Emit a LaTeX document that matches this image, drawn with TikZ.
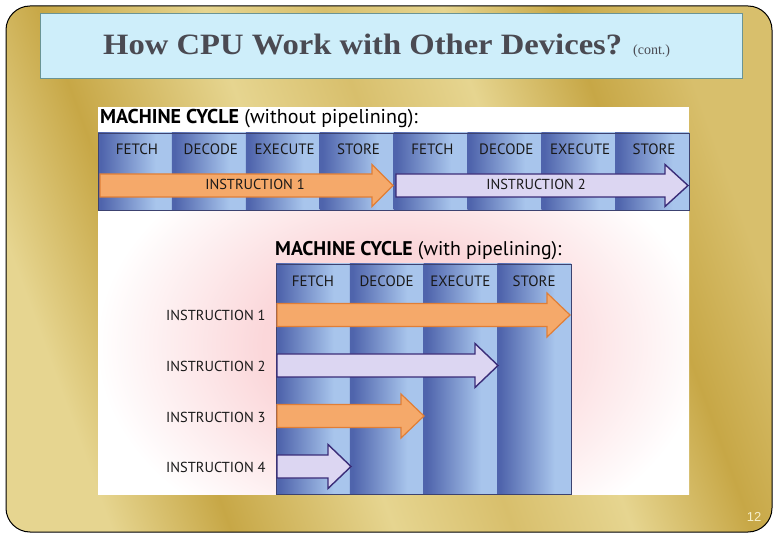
\documentclass[tikz,border=0pt]{standalone}
\usepackage{fontspec}
\usepackage{graphicx}
\setmainfont{Liberation Serif}
\newfontfamily\chartfont{PT Sans}
\newfontfamily\numfont{Liberation Sans}
\definecolor{g1}{HTML}{E6D590}
\definecolor{g2}{HTML}{C7A746}
\definecolor{g3}{HTML}{D8BF6C}
\definecolor{cdk}{HTML}{4F64AC}
\definecolor{clt}{HTML}{A8C5EC}
\definecolor{orf}{HTML}{F5A96A}
\definecolor{ord}{HTML}{E07E36}
\definecolor{lvf}{HTML}{DCD6F2}
\definecolor{lvd}{HTML}{3A2C78}
\definecolor{ttl}{HTML}{4A4A52}
\definecolor{tbox}{HTML}{CEEEFA}
\definecolor{tbord}{HTML}{6A9494}
\definecolor{pinkc}{HTML}{FBD7DA}
\definecolor{bandln}{HTML}{3C4270}
\definecolor{numc}{HTML}{F6EFCB}
\pgfdeclarehorizontalshading{goldshade}{100bp}{color(0bp)=(g1); color(25bp)=(g1); color(33bp)=(g2); color(44bp)=(g1); color(52bp)=(g3); color(60bp)=(g1); color(68bp)=(g2); color(75bp)=(g3); color(100bp)=(g3)}
\pgfdeclarehorizontalshading{colshade}{100bp}{color(0bp)=(cdk); color(27bp)=(cdk); color(64bp)=(clt); color(75bp)=(clt); color(100bp)=(clt)}
\pgfdeclareradialshading{glow}{\pgfpoint{0bp}{0bp}}{color(0bp)=(pinkc); color(9bp)=(pinkc); color(20bp)=(white); color(50bp)=(white)}
\newcommand{\cycarrow}[6]{%
  \filldraw[#1] ({#2},{#5-11.5}) -- ({#3},{#5-11.5}) -- ({#3},{#5-#6}) -- ({#4},{#5}) -- ({#3},{#5+#6}) -- ({#3},{#5+11.5}) -- ({#2},{#5+11.5}) -- cycle;}
\begin{document}
\begin{tikzpicture}[x=1pt,y=-1pt,
  hdr/.style={font=\chartfont\fontsize{15}{17}\selectfont, anchor=base, inner sep=0pt, text=black!90},
  instr/.style={font=\chartfont\fontsize{14.5}{17}\selectfont, anchor=base, inner sep=0pt, text=black!90},
  orarrow/.style={fill=orf, draw=ord, line width=1.2pt, line join=miter},
  lvarrow/.style={fill=lvf, draw=lvd, line width=1.4pt, line join=miter},
  bandline/.style={draw=bandln, line width=0.8pt},
  colbox/.style={shading=colshade}]
\useasboundingbox (0,0) rectangle (780,540);
\fill[white] (0,0) rectangle (780,540);
% gold frame
\shadedraw[shading=goldshade, shading angle=20, draw=black, line width=1pt, rounded corners=24pt] (6,6) rectangle (772,532);
% title box
\node[draw=tbord, fill=tbox, line width=0.8pt, minimum width=702pt, minimum height=65pt, inner sep=0pt, anchor=north west] (titlebox) at (40,13) {};
\node[anchor=base west, inner sep=0pt, text=ttl] (title) at (103,55) {\resizebox{519pt}{20.5pt}{\bfseries How CPU Work with Other Devices?}};
\node[anchor=base west, inner sep=0pt, text=ttl, font=\fontsize{14}{16}\selectfont] (cont) at (633,55) {(cont.)};
% picture area
\fill[white] (98,107) rectangle (689,494);
\begin{scope}
  \clip (98,210) rectangle (689,494);
  \shade[shading=glow] (400,345) ellipse (380pt and 270pt);
\end{scope}
% ---- without pipelining
\node[anchor=base west, inner sep=0pt, font=\chartfont\fontsize{20}{23}\selectfont] (t1) at (100,124) {\textbf{MACHINE CYCLE} (without pipelining):};
\foreach \i in {0,...,7}
  \shade[colbox] ({98+\i*73.875},133) rectangle ({98+(\i+1)*73.875},210);
\draw[bandline] (98,133) rectangle (689,210);
\foreach \t [count=\i from 0] in {FETCH,DECODE,EXECUTE,STORE,FETCH,DECODE,EXECUTE,STORE}
  \node[hdr] (th\i) at ({98+(\i+0.5)*73.875+2},155) {\t};
\cycarrow{orarrow}{100}{372}{393}{185.5}{21}
\cycarrow{lvarrow}{396}{665}{688}{185.5}{21}
\node[instr] (ta1) at (255,189.5) {INSTRUCTION 1};
\node[instr] (ta2) at (536,189.5) {INSTRUCTION 2};
% ---- with pipelining
\node[anchor=base west, inner sep=0pt, font=\chartfont\fontsize{19.8}{23}\selectfont] (t2) at (275,256) {\textbf{MACHINE CYCLE} (with pipelining):};
\foreach \i in {0,...,3}
  \shade[colbox] ({276+\i*73.75},264) rectangle ({276+(\i+1)*73.75},494);
\draw[bandline] (276,264) rectangle (571,494);
\foreach \t [count=\i from 0] in {FETCH,DECODE,EXECUTE,STORE}
  \node[hdr] (bh\i) at ({276+(\i+0.5)*73.75},287) {\t};
\cycarrow{orarrow}{277}{547}{570}{315}{22}
\cycarrow{lvarrow}{277}{475}{498}{365.5}{22}
\cycarrow{orarrow}{277}{401}{424}{416}{22}
\cycarrow{lvarrow}{277}{328}{351}{466.5}{22}
\foreach \n/\y in {1/321,2/371,3/422,4/472}
  \node[instr, anchor=base west] (il\n) at (166,\y) {INSTRUCTION \n};
% page number
\node[text=numc, inner sep=0pt, font=\numfont\fontsize{13}{15}\selectfont] (pg) at (754,517) {12};
\end{tikzpicture}
\end{document}
